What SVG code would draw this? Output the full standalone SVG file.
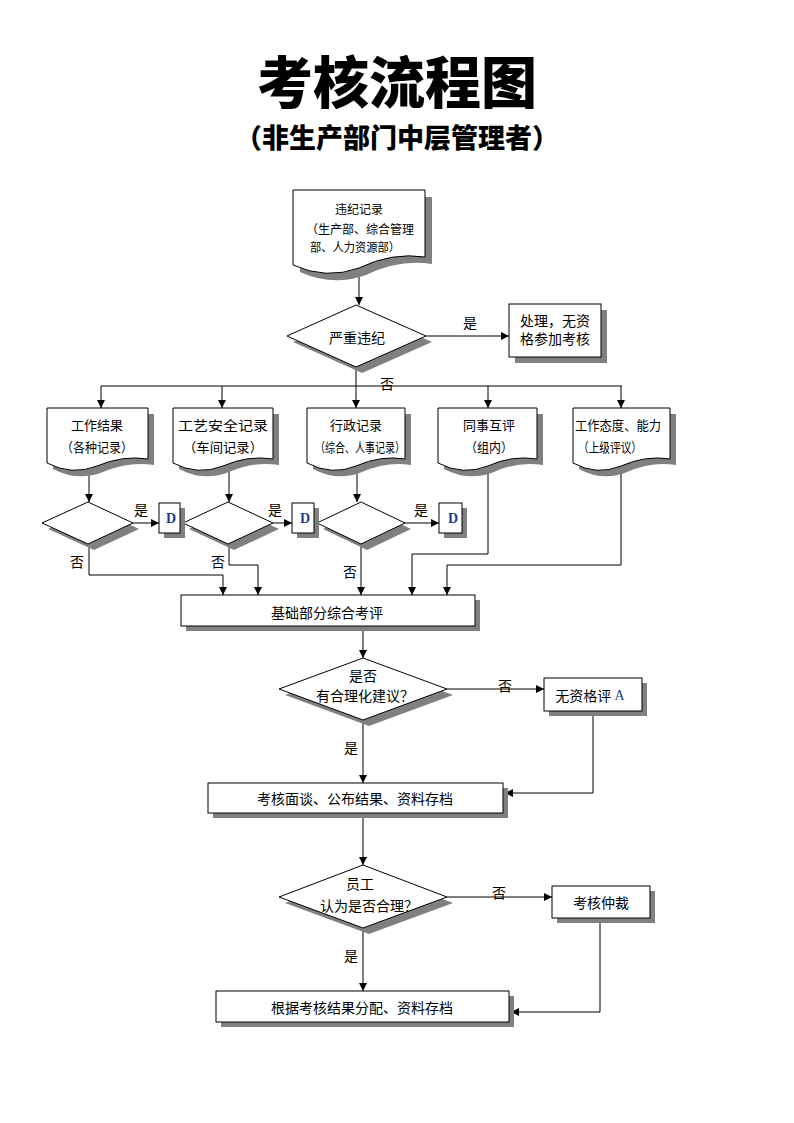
<svg xmlns="http://www.w3.org/2000/svg" width="794" height="1123" viewBox="0 0 794 1123">
<defs>
<marker id="arr" markerUnits="userSpaceOnUse" markerWidth="8" markerHeight="8" refX="8" refY="4" orient="auto">
<path d="M0,0 L8,4 L0,8 Z" fill="#000"/>
</marker>
<style>
.sh{fill:#808080;stroke:none}
.bx{fill:#fff;stroke:#000;stroke-width:1}
.t{font-family:"Noto Sans CJK SC","Liberation Sans",sans-serif;font-size:14px;fill:#000;text-anchor:middle;dominant-baseline:central}
.s{font-size:13px}
.xs{font-size:12px}
.c{fill:none;stroke:#000;stroke-width:1}
.ttl{font-family:"Noto Sans CJK SC",sans-serif;font-weight:900;fill:#000;text-anchor:middle}
.D{font-family:"Liberation Serif",serif;font-size:14px;font-weight:bold;fill:#1f3c8c;text-anchor:middle;dominant-baseline:central}
</style>
</defs>
<rect width="794" height="1123" fill="#fff"/>
<text class="ttl" x="397" y="103" font-size="56">考核流程图</text>
<text class="ttl" x="397" y="148" font-size="27" textLength="324" lengthAdjust="spacing">（非生产部门中层管理者）</text>

<g id="connectors">
<path class="c" d="M359,272 V305" marker-end="url(#arr)"/>
<path class="c" d="M426,336 H509" marker-end="url(#arr)"/>
<path class="c" d="M356,367 V386"/>
<path class="c" d="M101,386 H622"/>
<path class="c" d="M101,386 V408" marker-end="url(#arr)"/>
<path class="c" d="M222,386 V408" marker-end="url(#arr)"/>
<path class="c" d="M356,386 V408" marker-end="url(#arr)"/>
<path class="c" d="M488,386 V408" marker-end="url(#arr)"/>
<path class="c" d="M621,386 V408" marker-end="url(#arr)"/>
<path class="c" d="M89,470 V502" marker-end="url(#arr)"/>
<path class="c" d="M229,470 V502" marker-end="url(#arr)"/>
<path class="c" d="M357,469 V502" marker-end="url(#arr)"/>
<path class="c" d="M133,523 H159" marker-end="url(#arr)"/>
<path class="c" d="M273,523 H292" marker-end="url(#arr)"/>
<path class="c" d="M405,523 H439" marker-end="url(#arr)"/>
<path class="c" d="M89,544 V575 H223 V595" marker-end="url(#arr)"/>
<path class="c" d="M229,544 V565 H258 V595" marker-end="url(#arr)"/>
<path class="c" d="M361,544 V595" marker-end="url(#arr)"/>
<path class="c" d="M488,467 V554 H412 V595" marker-end="url(#arr)"/>
<path class="c" d="M621,466 V565 H447 V595" marker-end="url(#arr)"/>
<path class="c" d="M363,626 V658" marker-end="url(#arr)"/>
<path class="c" d="M447,689 H544" marker-end="url(#arr)"/>
<path class="c" d="M593,711 V793 H505" marker-end="url(#arr)"/>
<path class="c" d="M363,720 V783" marker-end="url(#arr)"/>
<path class="c" d="M363,813 V865" marker-end="url(#arr)"/>
<path class="c" d="M447,897 H552" marker-end="url(#arr)"/>
<path class="c" d="M600,918 V1012 H511" marker-end="url(#arr)"/>
<path class="c" d="M363,928 V991" marker-end="url(#arr)"/>
<text class="t" x="470" y="322">是</text>
<text class="t" x="387" y="383">否</text>
<text class="t" x="141" y="509">是</text>
<text class="t" x="275" y="509">是</text>
<text class="t" x="421" y="509">是</text>
<text class="t" x="77" y="561">否</text>
<text class="t" x="218" y="561">否</text>
<text class="t" x="350" y="571">否</text>
<text class="t" x="505" y="685">否</text>
<text class="t" x="351" y="747">是</text>
<text class="t" x="499" y="892">否</text>
<text class="t" x="351" y="955">是</text>
</g>

<g id="n_violation">
<path class="sh" transform="translate(7,7)" d="M293,190 H425 V257 Q392,252 359,268 Q326,280 293,265 Z"/>
<path class="bx" d="M293,190 H425 V257 Q392,252 359,268 Q326,280 293,265 Z"/>
<text class="t xs" x="359" y="208">违纪记录</text>
<text class="t xs" x="360" y="228">（生产部、综合管理</text>
<text class="t xs" x="355" y="246" textLength="90" lengthAdjust="spacingAndGlyphs">部、人力资源部）</text>
</g>

<g id="d_serious">
<polygon class="sh" transform="translate(6,6)" points="287,336 356,305 426,336 356,367"/>
<polygon class="bx" points="287,336 356,305 426,336 356,367"/>
<text class="t" x="357" y="337">严重违纪</text>
</g>

<g id="n_disqualify">
<rect class="sh" x="515" y="310" width="92" height="53"/>
<rect class="bx" x="509" y="304" width="92" height="53"/>
<text class="t" x="555" y="320">处理，无资</text>
<text class="t" x="555" y="338">格参加考核</text>
</g>

<g id="n_work">
<path class="sh" transform="translate(6,6)" d="M47,408 H148 V459 Q123,455 97,466 Q72,476 47,463 Z"/>
<path class="bx" d="M47,408 H148 V459 Q123,455 97,466 Q72,476 47,463 Z"/>
<text class="t s" x="97" y="424">工作结果</text>
<text class="t s" x="97" y="446" textLength="72" lengthAdjust="spacingAndGlyphs">（各种记录）</text>
</g>
<g id="n_craft">
<path class="sh" transform="translate(6,6)" d="M173,408 H273 V459 Q248,455 223,466 Q198,476 173,463 Z"/>
<path class="bx" d="M173,408 H273 V459 Q248,455 223,466 Q198,476 173,463 Z"/>
<text class="t s" x="223" y="424" textLength="90" lengthAdjust="spacingAndGlyphs">工艺安全记录</text>
<text class="t s" x="223" y="446" textLength="80" lengthAdjust="spacingAndGlyphs">（车间记录）</text>
</g>
<g id="n_admin">
<path class="sh" transform="translate(6,6)" d="M307,408 H405 V459 Q381,455 356,466 Q332,476 307,463 Z"/>
<path class="bx" d="M307,408 H405 V459 Q381,455 356,466 Q332,476 307,463 Z"/>
<text class="t s" x="356" y="424">行政记录</text>
<text class="t s" x="360" y="446" textLength="90" lengthAdjust="spacingAndGlyphs">（综合、人事记录）</text>
</g>
<g id="n_peer">
<path class="sh" transform="translate(6,6)" d="M438,408 H537 V459 Q512,455 488,466 Q463,476 438,463 Z"/>
<path class="bx" d="M438,408 H537 V459 Q512,455 488,466 Q463,476 438,463 Z"/>
<text class="t s" x="489" y="424">同事互评</text>
<text class="t s" x="489" y="446" textLength="48" lengthAdjust="spacingAndGlyphs">（组内）</text>
</g>
<g id="n_attitude">
<path class="sh" transform="translate(6,6)" d="M573,408 H670 V459 Q646,455 621,466 Q597,476 573,463 Z"/>
<path class="bx" d="M573,408 H670 V459 Q646,455 621,466 Q597,476 573,463 Z"/>
<text class="t s" x="618" y="424" textLength="86" lengthAdjust="spacingAndGlyphs">工作态度、能力</text>
<text class="t s" x="610" y="446" textLength="64" lengthAdjust="spacingAndGlyphs">（上级评议）</text>
</g>

<g id="d_a">
<polygon class="sh" transform="translate(6,6)" points="42,523 88,502 133,523 88,544"/>
<polygon class="bx" points="42,523 88,502 133,523 88,544"/>
</g>
<g id="d_b">
<polygon class="sh" transform="translate(6,6)" points="183,523 228,502 273,523 228,544"/>
<polygon class="bx" points="183,523 228,502 273,523 228,544"/>
</g>
<g id="d_c">
<polygon class="sh" transform="translate(6,6)" points="317,523 361,502 405,523 361,544"/>
<polygon class="bx" points="317,523 361,502 405,523 361,544"/>
</g>

<g id="n_D1">
<rect class="sh" x="164" y="508" width="21" height="30"/>
<rect class="bx" x="159" y="503" width="21" height="30"/>
<text class="D" x="171" y="518">D</text>
</g>
<g id="n_D2">
<rect class="sh" x="297" y="508" width="22" height="30"/>
<rect class="bx" x="292" y="503" width="22" height="30"/>
<text class="D" x="305" y="518">D</text>
</g>
<g id="n_D3">
<rect class="sh" x="444" y="508" width="23" height="30"/>
<rect class="bx" x="439" y="503" width="23" height="30"/>
<text class="D" x="453" y="518">D</text>
</g>

<g id="n_base">
<rect class="sh" x="186" y="600" width="294" height="31"/>
<rect class="bx" x="181" y="595" width="294" height="31"/>
<text class="t" x="327" y="612">基础部分综合考评</text>
</g>

<g id="d_suggest">
<polygon class="sh" transform="translate(6,6)" points="279,689 363,658 447,689 363,720"/>
<polygon class="bx" points="279,689 363,658 447,689 363,720"/>
<text class="t" x="363" y="675">是否</text>
<text class="t" x="365" y="695">有合理化建议？</text>
</g>

<g id="n_noA">
<rect class="sh" x="549" y="683" width="98" height="33"/>
<rect class="bx" x="544" y="678" width="98" height="33"/>
<text class="t" x="590" y="695">无资格评 <tspan font-family="Liberation Serif,serif" fill="#1f3c8c">A</tspan></text>
</g>

<g id="n_interview">
<rect class="sh" x="213" y="788" width="295" height="30"/>
<rect class="bx" x="208" y="783" width="295" height="30"/>
<text class="t" x="355" y="798">考核面谈、公布结果、资料存档</text>
</g>

<g id="d_reasonable">
<polygon class="sh" transform="translate(6,6)" points="279,897 363,865 447,897 363,928"/>
<polygon class="bx" points="279,897 363,865 447,897 363,928"/>
<text class="t" x="360" y="883">员工</text>
<text class="t" x="369" y="905">认为是否合理？</text>
</g>

<g id="n_arbitration">
<rect class="sh" x="557" y="891" width="98" height="32"/>
<rect class="bx" x="552" y="886" width="98" height="32"/>
<text class="t" x="601" y="902">考核仲裁</text>
</g>

<g id="n_final">
<rect class="sh" x="221" y="996" width="293" height="31"/>
<rect class="bx" x="216" y="991" width="293" height="31"/>
<text class="t" x="362" y="1007">根据考核结果分配、资料存档</text>
</g>
</svg>
